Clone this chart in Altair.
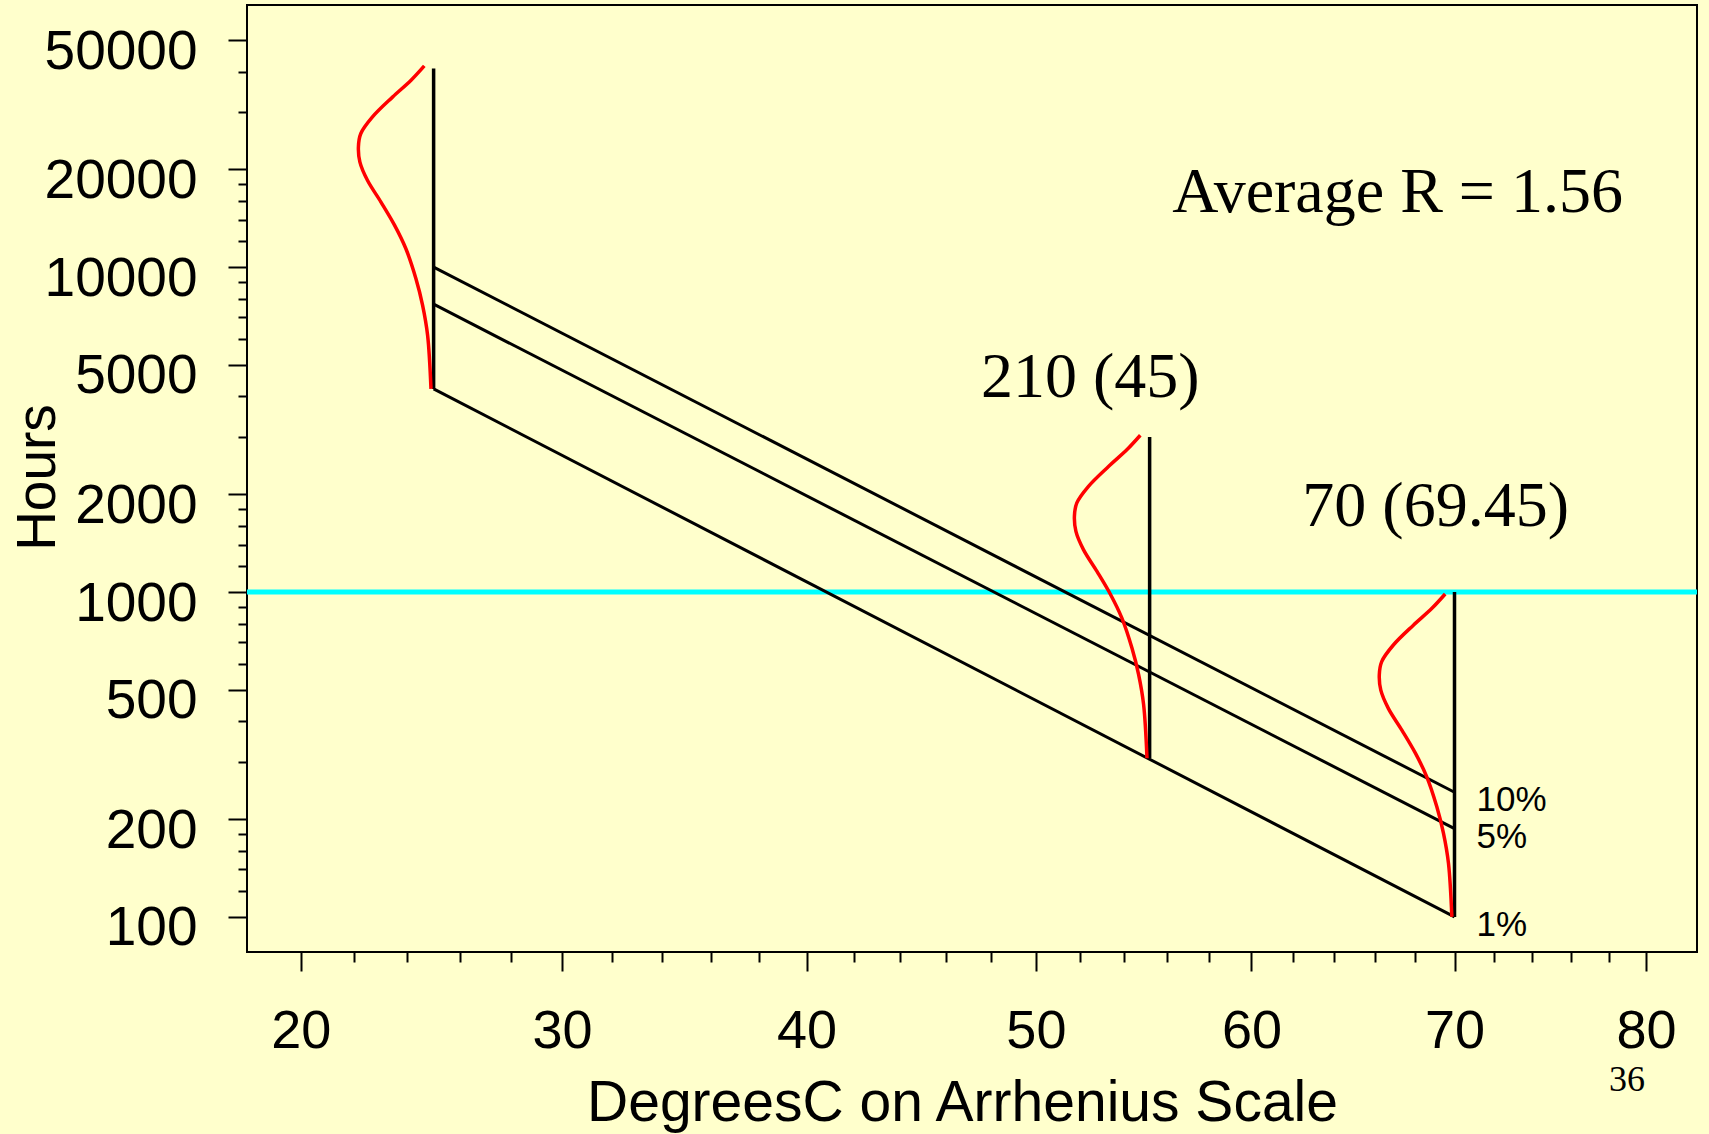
import altair as alt
import pandas as pd

# ---------------- data ----------------
pct_labels = ["10%", "5%", "1%"]
temp_low, temp_high = 25, 70
hours_at_low = [10000, 7690, 4220]      # hours at 25 C
hours_at_high = [242, 187, 100]         # hours at 70 C

dist_temps = [25, 55.2, 70]
dist_low = [4220, 308, 100]
dist_high = [40900, 3000, 1000]

# shape of the plotted life distribution: decades above its low end, relative density
shape_decades = [0.0, 0.165, 0.258, 0.339, 0.432, 0.504, 0.575, 0.642,
                 0.698, 0.745, 0.786, 0.837, 0.898, 0.950, 0.994]
shape_density = [0.035, 0.08, 0.147, 0.235, 0.37, 0.52, 0.70, 0.88,
                 0.98, 1.0, 0.968, 0.813, 0.547, 0.30, 0.124]

ann_texts = ["Average R = 1.56", "210 (45)", "70 (69.45)"]
ann_temps = [56.25, 47.55, 62.45]
ann_hours = [14760, 3981, 1596]

target_hours = [1000]

x_tick_temps = list(range(20, 81, 2))
y_major = [100, 200, 500, 1000, 2000, 5000, 10000, 20000, 50000]
y_minor = [120, 140, 160, 180, 300, 400, 600, 700, 800, 900,
           1200, 1400, 1600, 1800, 3000, 4000, 6000, 7000, 8000, 9000,
           12000, 14000, 16000, 18000, 30000, 40000]

# ---------------- helpers ----------------
K = 273.15
ARR = "-10000 / (datum.temp + 273.15)"
DENS_W = 0.324   # peak width of the density curves in Arrhenius units


def arr(t):
    return -10000.0 / (t + K)


x_domain = [arr(18.02), arr(82.76)]
y_domain = [78, 64100]

BG = "#FFFFCC"
SANS = "Liberation Sans"
SERIF = "Liberation Serif"

deg_expr = "round(-10000 / datum.value - 273.15)"
x_major_test = f"{deg_expr} % 10 == 0"
x_axis = alt.Axis(
    values=[arr(t) for t in x_tick_temps],
    labelExpr=f"({x_major_test}) ? '' + {deg_expr} : ''",
    tickSize={"condition": {"test": x_major_test, "value": 19}, "value": 10},
    tickWidth=2, tickColor="black", domain=False, grid=False,
    labelFont=SANS, labelFontSize=54, labelColor="black",
    labelBaseline="top", labelPadding=33, labelOverlap=False, labelFlush=False,
    title="DegreesC on Arrhenius Scale",
    titleFont=SANS, titleFontSize=57, titleFontWeight="normal", titleColor="black",
    titleX=715, titleY=168, titleBaseline="alphabetic", titleAlign="center",
)

major_list = "[" + ",".join(str(v) for v in y_major) + "]"
y_major_test = f"indexof({major_list}, datum.value) >= 0"
y_axis = alt.Axis(
    values=sorted(y_major + y_minor),
    labelExpr=f"({y_major_test}) ? '' + datum.value : ''",
    tickSize={"condition": {"test": y_major_test, "value": 19}, "value": 9},
    tickWidth=2, tickColor="black", domain=False, grid=False,
    labelFont=SANS, labelFontSize=55, labelColor="black",
    labelBaseline="alphabetic", labelOffset=28, labelPadding=31,
    labelOverlap=False, labelFlush=False,
    title="Hours", titleFont=SANS, titleFontSize=55, titleFontWeight="normal",
    titleColor="black", titleAngle=270, titleX=-193, titleY=472,
    titleBaseline="alphabetic", titleAlign="center",
)

xenc = alt.X("arr:Q", scale=alt.Scale(domain=x_domain, nice=False, zero=False), axis=x_axis)
yenc = alt.Y("hours:Q", scale=alt.Scale(type="log", domain=y_domain, nice=False), axis=y_axis)

# ---------------- tables ----------------
lines_df = pd.DataFrame({
    "pct": pct_labels * 2,
    "temp": [temp_low] * 3 + [temp_high] * 3,
    "hours": hours_at_low + hours_at_high,
})

dist_df = pd.DataFrame({"temp": dist_temps, "hours": dist_low, "hours2": dist_high})

rows = []
for g, (t, lo) in enumerate(zip(dist_temps, dist_low)):
    for i, (d, w) in enumerate(zip(shape_decades, shape_density)):
        rows.append({"group": g, "idx": i, "temp": t, "dens": w, "hours": lo * 10 ** d})
curve_df = pd.DataFrame(rows)

pct_df = pd.DataFrame({"pct": pct_labels, "temp": [temp_high] * 3, "hours": hours_at_high})
ann_df = pd.DataFrame({"text": ann_texts, "temp": ann_temps, "hours": ann_hours})
target_df = pd.DataFrame({"hours": target_hours})

# ---------------- layers ----------------
target = alt.Chart(target_df).mark_rule(color="#00FFFF", strokeWidth=5).encode(y=yenc)

pct_lines = alt.Chart(lines_df).transform_calculate(arr=ARR).mark_line(
    color="black", strokeWidth=3).encode(x=xenc, y=yenc, detail="pct:N")

dist_lines = alt.Chart(dist_df).transform_calculate(arr=ARR).mark_rule(
    color="black", strokeWidth=3.5).encode(x=xenc, y=yenc, y2="hours2:Q")

curves = alt.Chart(curve_df).transform_calculate(
    arr=f"{ARR} - datum.dens * {DENS_W}"
).mark_line(color="#FF0000", strokeWidth=3.5, interpolate="catmull-rom").encode(
    x=xenc, y=yenc, detail="group:N", order="idx:Q")

pct_text = alt.Chart(pct_df).transform_calculate(arr=ARR).mark_text(
    align="left", baseline="alphabetic", dx=22, dy=19, font=SANS, fontSize=35, color="black"
).encode(x=xenc, y=yenc, text="pct:N")

ann_text = alt.Chart(ann_df).transform_calculate(arr=ARR).mark_text(
    align="left", baseline="alphabetic", font=SERIF, fontSize=64, color="black"
).encode(x=xenc, y=yenc, text="text:N")

page_no = alt.Chart(pd.DataFrame({"t": ["36"]})).mark_text(
    align="left", baseline="alphabetic", font=SERIF, fontSize=36, color="black"
).encode(x=alt.value(1362), y=alt.value(1086), text="t:N")

chart = alt.layer(target, pct_lines, dist_lines, curves, pct_text, ann_text, page_no).properties(
    width=1450, height=947,
    autosize=alt.AutoSizeParams(type="none"),
    padding={"left": 247, "top": 5, "right": 12, "bottom": 182},
    background=BG,
).configure_view(fill=BG, stroke="black", strokeWidth=2)

chart.save("out.html", embed_options={"renderer": "svg", "actions": False})
